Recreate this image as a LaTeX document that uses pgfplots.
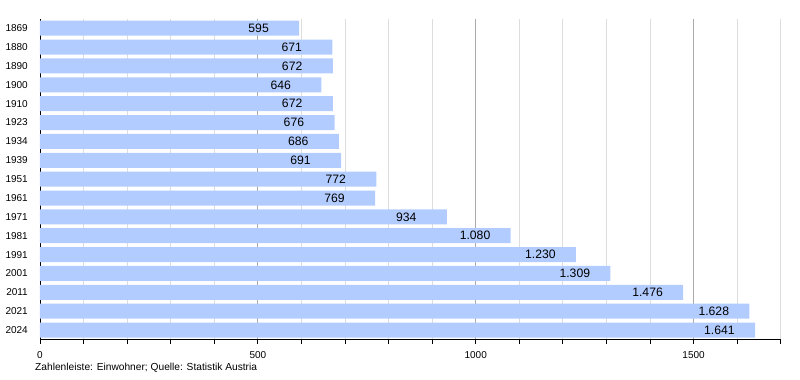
\documentclass[border=0pt]{standalone}
\usepackage{pgfplots}
\pgfplotsset{compat=1.18}
\usepackage{fontspec}
\setmainfont{Liberation Sans}
\definecolor{barblue}{RGB}{179,204,255}
\definecolor{minorgrid}{RGB}{221,221,221}
\definecolor{majorgrid}{RGB}{170,170,170}
\begin{document}
\begin{tikzpicture}
\begin{axis}[
  name=ax,
  scale only axis,
  width=740.7bp, height=320.7bp,
  xbar, bar width=15bp,
  xmin=0, xmax=1700,
  ymin=-0.5, ymax=16.5,
  y dir=reverse,
  ytick={0,...,16},
  yticklabels={1869,1880,1890,1900,1910,1923,1934,1939,1951,1961,1971,1981,1991,2001,2011,2021,2024},
  xtick={0,500,1000,1500},
  minor xtick={100,200,300,400,600,700,800,900,1100,1200,1300,1400,1600,1700},
  axis x line*=bottom, axis y line*=left,
  x axis line style={-, black},
  y axis line style={-, black},
  tick align=outside,
  major tick length=4bp, minor tick length=4bp,
  xtick style={black, line width=0.8pt},
  ytick style={draw=none},
  xmajorgrids, xminorgrids,
  major grid style={majorgrid, line width=0.8pt},
  minor grid style={minorgrid, line width=0.8pt},
  /pgf/number format/assume math mode=true,
  /pgf/number format/1000 sep={},
  xticklabel style={font=\fontsize{10bp}{12bp}\selectfont, inner sep=0pt, anchor=north, yshift=-8bp},
  yticklabel style={font=\fontsize{10bp}{12bp}\selectfont, inner sep=0pt, anchor=east, xshift=-8bp},
  nodes near coords,
  nodes near coords style={anchor=west, inner sep=0pt, xshift=-51bp,
     font=\fontsize{12.2bp}{14bp}\selectfont,
     /pgf/number format/.cd, assume math mode=true, 1000 sep={.}},
]
\addplot[draw=none, fill=barblue] coordinates {
(595,0) (671,1) (672,2) (646,3) (672,4) (676,5) (686,6) (691,7) (772,8) (769,9)
(934,10) (1080,11) (1230,12) (1309,13) (1476,14) (1628,15) (1641,16)
};
\end{axis}
\node[anchor=west, inner sep=0pt, font=\fontsize{10.2bp}{12bp}\selectfont] at ([xshift=-5bp, yshift=-28.5bp]ax.south west) {Zahlenleiste: Einwohner; Quelle: Statistik Austria};
\path ([xshift=-40bp, yshift=-40.5bp]ax.south west) rectangle ++(800bp,380bp);
\end{tikzpicture}
\end{document}
